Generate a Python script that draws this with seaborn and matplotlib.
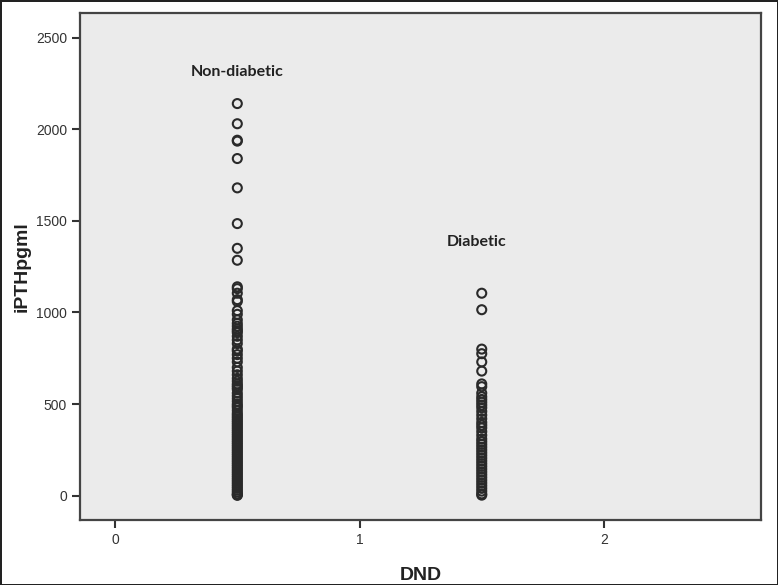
import matplotlib
matplotlib.use("Agg")
import matplotlib.pyplot as plt
import seaborn as sns
import pandas as pd

# Data
non_diabetic = [2140, 2030, 1940, 1935, 1840, 1680, 1485, 1350, 1285, 1140, 1130, 1105,
                1070, 1060, 1010, 990, 960, 940, 925, 910, 900, 890, 870, 850, 830, 800,
                790, 770, 750, 730, 700, 680, 660, 640, 625, 610, 600, 590, 580, 560, 545,
                530, 515, 500, 490, 480, 465, 450, 440, 430, 420, 410, 400, 390, 380, 370,
                360, 350, 340, 330, 320, 310, 300, 290, 280, 270, 260, 250, 240, 230, 220,
                210, 200, 190, 180, 170, 160, 150, 140, 130, 120, 110, 100, 90, 80, 70, 60,
                50, 40, 30, 20, 10, 5, 2]
diabetic = [1105, 1015, 800, 775, 730, 680, 610, 595, 560, 540, 525, 510, 495, 480, 460,
            440, 420, 400, 385, 370, 350, 330, 310, 295, 280, 265, 250, 235, 220, 205, 190,
            175, 160, 145, 130, 115, 100, 85, 70, 55, 40, 25, 10, 3]
group_x = [0.5, 1.5]
group_labels = ["Non-diabetic", "Diabetic"]
label_y = [2310, 1385]
x_ticks = [0, 1, 2]
y_ticks = [0, 500, 1000, 1500, 2000, 2500]

df = pd.DataFrame({
    "DND": [group_x[0]] * len(non_diabetic) + [group_x[1]] * len(diabetic),
    "iPTHpgml": non_diabetic + diabetic,
})

sns.set_style("white")
plt.rcParams["font.family"] = ["Liberation Sans", "DejaVu Sans"]
ARIAL = ["Liberation Sans", "DejaVu Sans"]

fig = plt.figure(figsize=(7.78, 5.85), dpi=100)
fig.patch.set_edgecolor("#222222")
fig.patch.set_linewidth(2)
ax = fig.add_axes([0.103, 0.111, 0.875, 0.867])
ax.set_facecolor("#ebebeb")

sns.scatterplot(data=df, x="DND", y="iPTHpgml", ax=ax, marker="o", s=42,
                facecolor="none", edgecolor="#2a2a2a", linewidth=1.5)

ax.set_xlim(-0.143, 2.642)
ax.set_ylim(-133, 2635)
ax.set_xticks(x_ticks)
ax.set_yticks(y_ticks)
ax.tick_params(axis="both", direction="out", length=6, width=1.5, colors="#333333",
               labelsize=10, labelcolor="#333333", left=True, bottom=True)
for lab in ax.get_xticklabels() + ax.get_yticklabels():
    lab.set_family(ARIAL)
for sp in ax.spines.values():
    sp.set_color("#444444")
    sp.set_linewidth(1.6)

ax.set_xlabel("DND", fontsize=14, fontweight="bold", labelpad=14, color="#222222",
              family=ARIAL)
ax.set_ylabel("iPTHpgml", fontsize=14, fontweight="bold", labelpad=4, color="#222222",
              family=ARIAL)

offsets = [0.0, -0.02]
for gx, gl, gy, off in zip(group_x, group_labels, label_y, offsets):
    ax.text(gx + off, gy, gl, ha="center", va="center", fontsize=11.5,
            fontweight="bold", color="#222222", family=["Lato", "DejaVu Sans"])

fig.savefig("out.png", dpi=100)
